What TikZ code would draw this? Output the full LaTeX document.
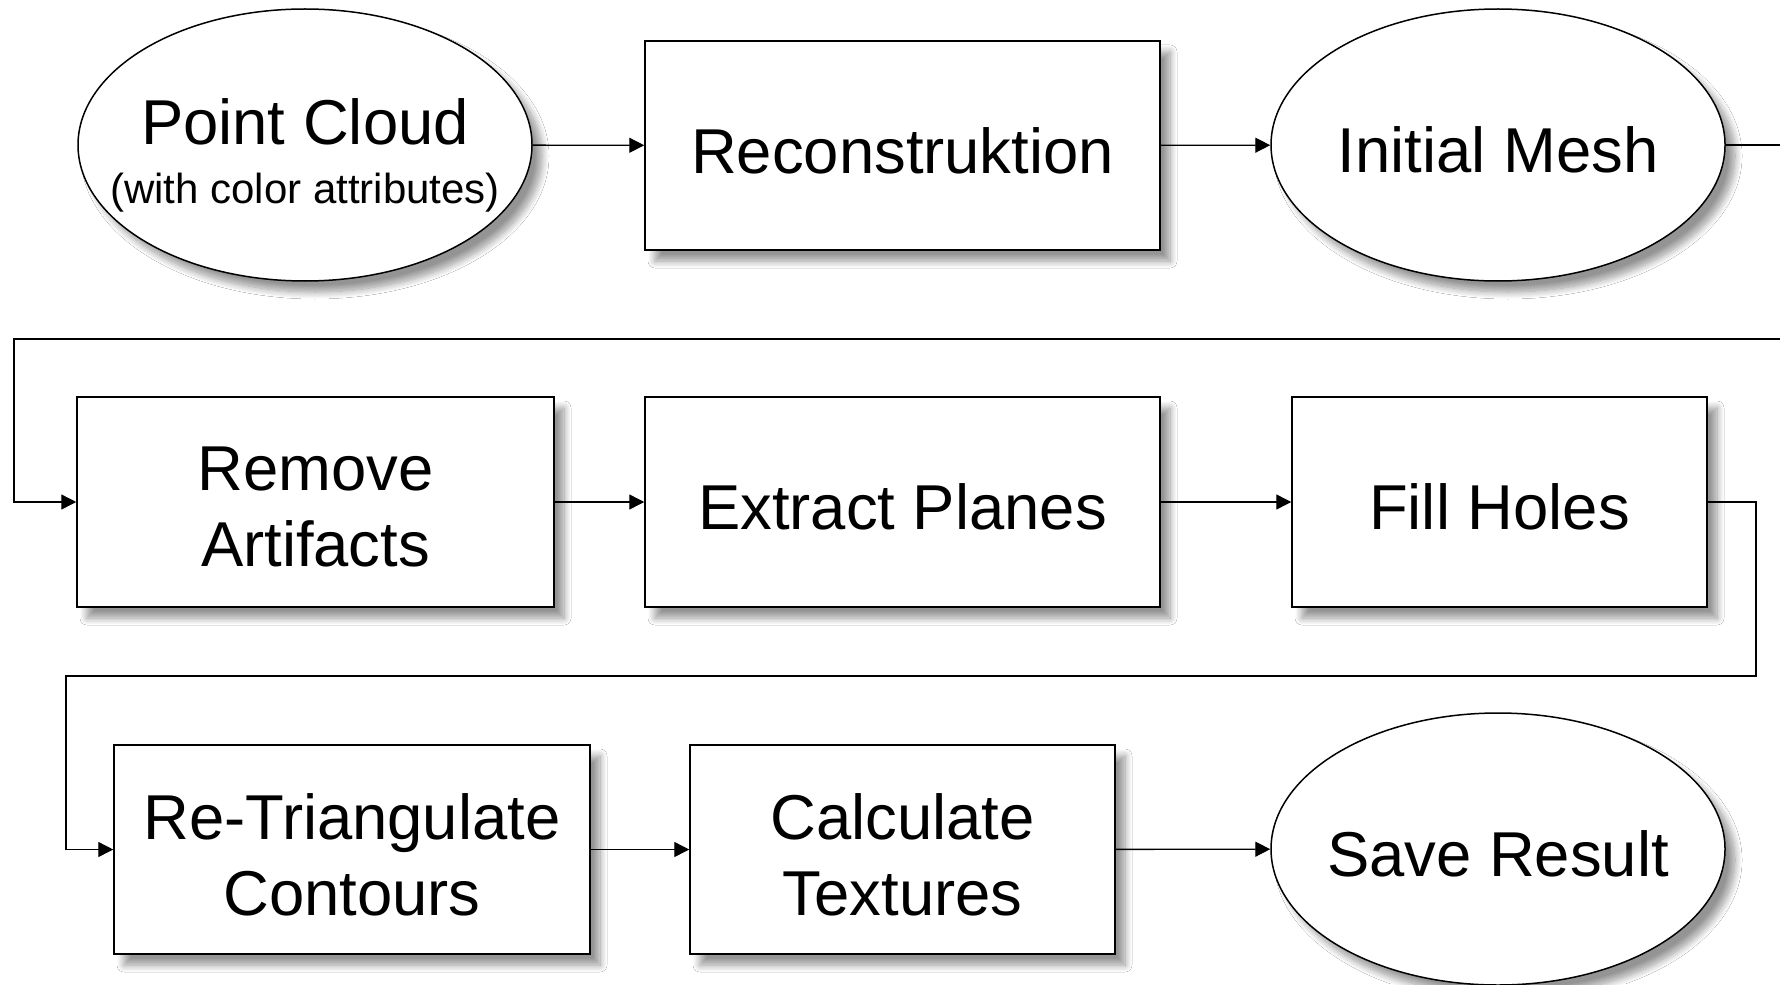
\documentclass[tikz,border=0pt]{standalone}
\usepackage{fontspec}
\setmainfont{Liberation Sans}
\usetikzlibrary{shapes.geometric,arrows.meta,shadows.blur}

\tikzset{
  every node/.style={font=\fontsize{31.7}{38}\selectfont, align=center},
  shade/.style={blur shadow={shadow xshift=5pt, shadow yshift=-5.5pt,
                shadow blur radius=3.5pt, shadow blur steps=12, shadow opacity=42}},
  stepbox/.style={draw=black, line width=0.75pt, fill=white, rectangle,
                  inner sep=0pt, shade},
  terminal/.style={draw=black, line width=0.75pt, fill=white, ellipse,
                   inner sep=0pt, minimum width=227pt, minimum height=136pt, shade},
  % the caption of a shape, laid over its centre so it does not change its size
  caption/.style={label={[yshift=-2.5pt]center:#1}},
  link/.style={draw=black, line width=0.7pt},
  arr/.style={link, -{Triangle[length=7.5pt,width=7.5pt]}}
}

\begin{document}
\begin{tikzpicture}[x=0.5pt, y=-0.5pt]
  \useasboundingbox[fill=white] (0,0) rectangle (1780,984);

  % first row
  \node[terminal, label={[yshift=-5pt]center:Point Cloud\\[-8.5pt]{\fontsize{21}{25}\selectfont (with color attributes)}}] (pc) at (305,145) {};
  \node[stepbox, minimum width=257.5pt, minimum height=104.5pt, caption=Reconstruktion] (rec) at (902.5,145.5) {};
  \node[terminal, caption=Initial Mesh] (im) at (1498,145) {};

  % second row
  \node[stepbox, minimum width=238.5pt, minimum height=105pt, caption={Remove\\Artifacts}] (ra) at (315.5,502) {};
  \node[stepbox, minimum width=257.5pt, minimum height=105pt, caption=Extract Planes] (ep) at (902.5,502) {};
  \node[stepbox, minimum width=207.5pt, minimum height=105pt, caption=Fill Holes] (fh) at (1499.5,502) {};

  % third row
  \node[stepbox, minimum width=238pt, minimum height=104.5pt, caption={Re-Triangulate\\Contours}] (rt) at (352,849.5) {};
  \node[stepbox, minimum width=212.5pt, minimum height=104.5pt, caption={Calculate\\Textures}] (ct) at (902.5,849.5) {};
  \node[terminal, caption=Save Result] (sr) at (1498,849) {};

  % turning points of the row changes
  \coordinate (out1) at (1780,145);
  \coordinate (in2)  at (1780,339);
  \coordinate (l2)   at (14,339);
  \coordinate (r2)   at (1756,676);
  \coordinate (l3)   at (66,676);

  % connectors
  \draw[arr] (pc) -- (rec);
  \draw[arr] (rec) -- (im);
  \draw[link] (im.east) -- (out1);
  \draw[arr] (in2) -- (l2) |- (ra.west);
  \draw[arr] (ra) -- (ep);
  \draw[arr] (ep) -- (fh);
  \draw[arr] (fh.east) -| (r2) -- (l3) |- (rt.west);
  \draw[arr] (rt) -- (ct);
  \draw[arr] (ct) -- (sr);
\end{tikzpicture}
\end{document}
